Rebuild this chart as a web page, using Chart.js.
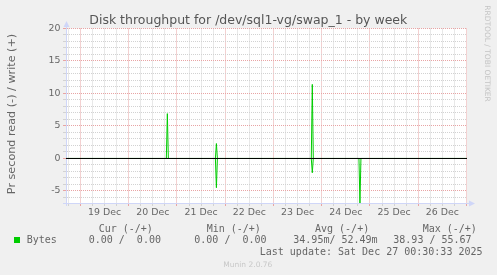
<!DOCTYPE html>
<html><head><meta charset="utf-8">
<script src="https://cdn.jsdelivr.net/npm/chart.js@4/dist/chart.umd.min.js"></script>
<style>html,body{margin:0;padding:0;background:#F0F0F0;}canvas{display:block;}</style>
</head><body>
<canvas id="c" width="497" height="275"></canvas>
<script>
// ---- data (hours since 19 Dec 00:00) ----
const chartTitle = 'Disk throughput for /dev/sql1-vg/swap_1 - by week';
const yAxisTitle = 'Pr second read (-) / write (+)';
const hours      = [-7.21, 42.7, 43.2, 43.7, 67.1, 67.6, 68.1, 114.8, 115.3, 115.8, 138.5, 139.0, 139.5, 192.25];
const writeBytes = [0,     0,    6.9,  0,    0,    2.3,  0,    0,     11.4,  0,     0,     0,     0,     0];
const readBytes  = [0,     0,    0,    0,    0,    4.5,  0,    0,     2.2,   0,     0,     6.85,  0,     0];
const dayLabels  = ['19 Dec','20 Dec','21 Dec','22 Dec','23 Dec','24 Dec','25 Dec','26 Dec'];
const yTickLabels = [-5, 0, 5, 10, 15, 20];
const xRange = [-7.21, 192.25];
const yRange = [-6.85, 20];
const legendHeaders = ['Cur (-/+)', 'Min (-/+)', 'Avg (-/+)', 'Max (-/+)'];
const legendName = 'Bytes';
const legendValues = ['0.00 /  0.00', '0.00 /  0.00', '34.95m/ 52.49m', '38.93 / 55.67'];
const lastUpdate = 'Last update: Sat Dec 27 00:30:33 2025';
const watermark = 'RRDTOOL / TOBI OETIKER';
const version = 'Munin 2.0.76';

const GREEN = '#00CC00', FONT = '#666666', AXIS = '#CFD6F8';
const MINOR = '#d2d2d2', MAJOR = '#e8a4a4';

const muninPlugin = {
  id: 'munin',
  beforeDraw(chart) {
    const {ctx, chartArea: a} = chart;
    ctx.save();
    ctx.fillStyle = '#F0F0F0';
    ctx.fillRect(0, 0, chart.width, chart.height);
    ctx.fillStyle = '#FFFFFF';
    ctx.fillRect(a.left, a.top, a.right - a.left, a.bottom - a.top);
    ctx.restore();
  },
  afterDraw(chart) {
    const {ctx, chartArea: a} = chart;
    ctx.save();
    // axis extensions and arrows
    ctx.strokeStyle = AXIS; ctx.fillStyle = AXIS; ctx.lineWidth = 1;
    ctx.beginPath();
    ctx.moveTo(a.left + 0.5, a.top); ctx.lineTo(a.left + 0.5, 26);
    ctx.moveTo(a.left + 0.5, a.bottom); ctx.lineTo(a.left + 0.5, a.bottom + 3);
    ctx.moveTo(a.right, a.bottom + 0.5); ctx.lineTo(469, a.bottom + 0.5);
    ctx.moveTo(a.left - 3, a.bottom + 0.5); ctx.lineTo(a.left, a.bottom + 0.5);
    ctx.stroke();
    ctx.beginPath();
    ctx.moveTo(a.left + 0.5, 21); ctx.lineTo(a.left + 3.5, 27); ctx.lineTo(a.left - 2.5, 27); ctx.closePath();
    ctx.fill();
    ctx.beginPath();
    ctx.moveTo(475, a.bottom + 0.5); ctx.lineTo(469, a.bottom - 2.5); ctx.lineTo(469, a.bottom + 3.5); ctx.closePath();
    ctx.fill();

    // title
    ctx.fillStyle = '#555555';
    ctx.font = '12.5px "DejaVu Sans"';
    ctx.textAlign = 'center'; ctx.textBaseline = 'alphabetic';
    ctx.fillText(chartTitle, 248.3, 24);

    // y axis title
    ctx.save();
    ctx.fillStyle = FONT;
    ctx.font = '11.2px "DejaVu Sans"';
    ctx.translate(14.7, 114);
    ctx.rotate(-Math.PI / 2);
    ctx.fillText(yAxisTitle, 0, 0);
    ctx.restore();

    // watermark
    ctx.save();
    ctx.fillStyle = '#c4c4c4';
    ctx.font = '7.5px "DejaVu Sans"';
    ctx.translate(485, 53.5);
    ctx.rotate(Math.PI / 2);
    ctx.fillText(watermark, 0, 0);
    ctx.restore();

    // legend
    ctx.fillStyle = FONT;
    ctx.font = '10px "DejaVu Sans Mono"';
    ctx.textAlign = 'left';
    const hx = [98.7, 206.7, 315, 422.7];
    legendHeaders.forEach((t, i) => ctx.fillText(t, hx[i], 231.5));
    ctx.fillText(legendName, 26.7, 243.2);
    const vx = [88.7, 194.3, 293.3, 393.3];
    legendValues.forEach((t, i) => ctx.fillText(t, vx[i], 243.2));
    ctx.textAlign = 'right';
    ctx.fillText(lastUpdate, 482.5, 254.5);
    ctx.fillStyle = GREEN;
    ctx.fillRect(14, 237, 6, 6);

    // version
    ctx.fillStyle = '#c8c8c8';
    ctx.font = '7.5px "DejaVu Sans"';
    ctx.textAlign = 'center';
    ctx.fillText(version, 247.8, 267);
    ctx.restore();
  }
};

const xGridColor = c => {
  const v = c.tick ? c.tick.value : 0;
  return (((v % 24) + 24) % 24 === 0) ? MAJOR : MINOR;
};
const yGridColor = c => {
  const v = c.tick ? c.tick.value : 0;
  return (v % 5 === 0) ? MAJOR : MINOR;
};

new Chart(document.getElementById('c'), {
  type: 'line',
  data: {
    datasets: [
      { label: 'zero', data: [{x: xRange[0], y: 0}, {x: xRange[1], y: 0}],
        borderColor: '#000000', borderWidth: 1, pointRadius: 0, tension: 0 },
      { label: 'write', data: hours.map((h, i) => ({x: h, y: writeBytes[i]})),
        borderColor: GREEN, borderWidth: 1, pointRadius: 0, tension: 0 },
      { label: 'read', data: hours.map((h, i) => ({x: h, y: -readBytes[i]})),
        borderColor: GREEN, borderWidth: 1, pointRadius: 0, tension: 0 }
    ]
  },
  options: {
    responsive: false,
    animation: false,
    devicePixelRatio: 1,
    layout: { padding: { left: 0, top: 28.5, right: 30, bottom: 0 } },
    plugins: { legend: { display: false }, tooltip: { enabled: false }, title: { display: false } },
    scales: {
      x: {
        type: 'linear', min: xRange[0], max: xRange[1],
        afterBuildTicks: s => { const t = []; for (let h = -6; h <= 192; h += 6) t.push({value: h}); s.ticks = t; },
        afterFit: s => { s.height = 72; },
        ticks: {
          autoSkip: false, maxRotation: 0, minRotation: 0, padding: 1,
          font: { family: 'DejaVu Sans', size: 9.4 }, color: FONT,
          callback: v => ((v - 12) % 24 === 0 && v >= 12) ? dayLabels[(v - 12) / 24] : ''
        },
        grid: { color: xGridColor, tickColor: xGridColor, lineWidth: 1, tickLength: 3 },
        border: { color: AXIS, width: 1, dash: [1, 1] }
      },
      y: {
        type: 'linear', min: yRange[0], max: yRange[1],
        afterBuildTicks: s => { const t = []; for (let v = -6; v <= 20; v++) t.push({value: v}); s.ticks = t; },
        afterFit: s => { s.width = 66; },
        ticks: {
          autoSkip: false, padding: 2.5, font: { family: 'DejaVu Sans', size: 9.4 }, color: FONT,
          callback: v => yTickLabels.includes(v) ? String(v) : ''
        },
        grid: { color: yGridColor, tickColor: yGridColor, lineWidth: 1, tickLength: 3 },
        border: { color: AXIS, width: 1, dash: [1, 1] }
      }
    }
  },
  plugins: [muninPlugin]
});
</script>
</body></html>
